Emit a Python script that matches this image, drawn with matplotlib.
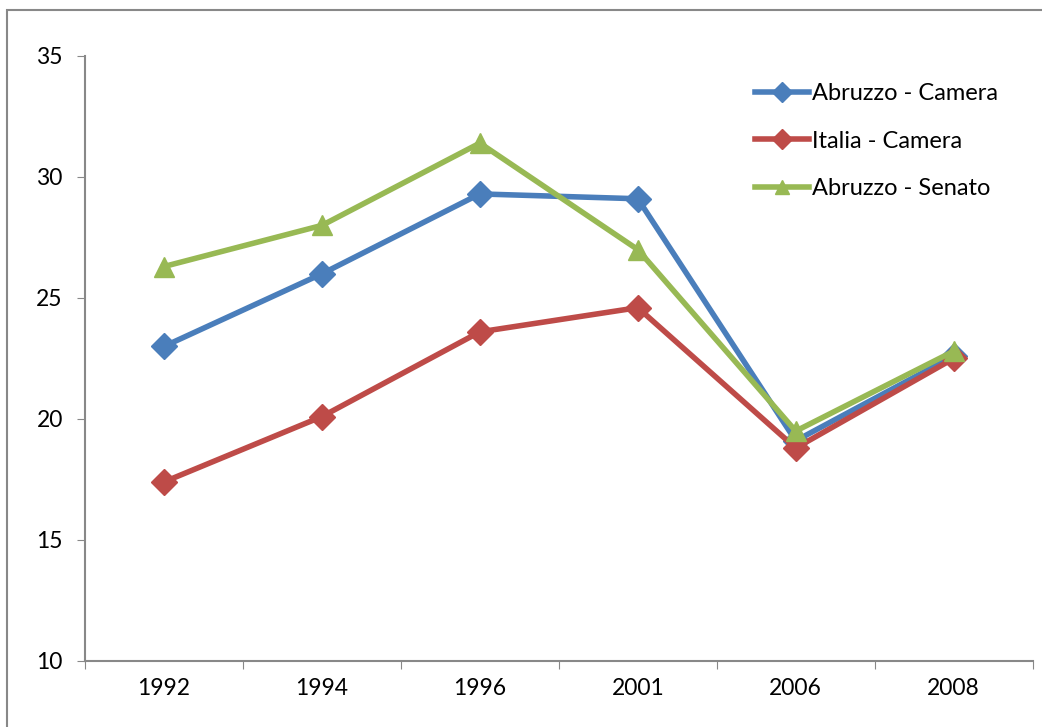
import matplotlib
matplotlib.use("Agg")
import matplotlib.pyplot as plt
from matplotlib.patches import Rectangle

years = ["1992", "1994", "1996", "2001", "2006", "2008"]
abruzzo_camera = [23.0, 26.0, 29.3, 29.1, 19.1, 22.6]
italia_camera = [17.4, 20.1, 23.6, 24.6, 18.8, 22.5]
abruzzo_senato = [26.3, 28.0, 31.4, 27.0, 19.5, 22.8]

plt.rcParams['font.family'] = ['Lato', 'DejaVu Sans']

fig = plt.figure(figsize=(10.42, 7.27), dpi=100)
ax = fig.add_axes([0.0816, 0.0908, 0.9094, 0.8322])

# chart area border
fig.patches.append(Rectangle((7 / 1042, -0.1), 1.2, 1 - 10 / 727 + 0.1,
                             transform=fig.transFigure, fill=False,
                             edgecolor='#888888', linewidth=1.5))

x = range(len(years))
ax.plot(x, abruzzo_camera, color='#4a7ebb', lw=4, marker='D', ms=13,
        label='Abruzzo - Camera')
ax.plot(x, italia_camera, color='#be4b48', lw=4, marker='D', ms=13,
        label='Italia - Camera')
ax.plot(x, abruzzo_senato, color='#98b954', lw=4, marker='^', ms=14,
        label='Abruzzo - Senato')

ax.set_xlim(-0.5, len(years) - 0.5)
ax.set_ylim(10, 35)
ax.set_yticks([10, 15, 20, 25, 30, 35])
ax.set_xticks([i - 0.5 for i in range(len(years) + 1)])
ax.set_xticklabels([])
ax.set_xticks(list(x), minor=True)
ax.set_xticklabels(years, minor=True)
ax.tick_params(axis='x', which='minor', length=0, pad=12, labelsize=16.5)
ax.tick_params(axis='x', which='major', length=6, color='#888888', direction='out')
ax.tick_params(axis='y', length=6, color='#888888', pad=10, labelsize=16.5)

for s in ['top', 'right']:
    ax.spines[s].set_visible(False)
for s in ['left', 'bottom']:
    ax.spines[s].set_color('#888888')
    ax.spines[s].set_linewidth(1.5)

ax.legend(loc='upper left', bbox_to_anchor=(0.707, 0.955), frameon=False,
          borderaxespad=0, borderpad=0, fontsize=17, markerscale=0.75,
          handlelength=2.3, handletextpad=0.1, labelspacing=1.12)

fig.savefig("out.png", dpi=100)
